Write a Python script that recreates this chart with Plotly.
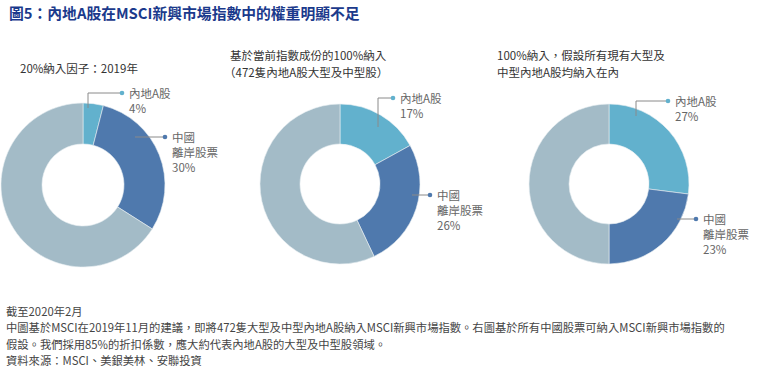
import plotly.graph_objects as go

W, H = 760, 377
FONT = "Noto Sans CJK TC"

slice_names = ["內地A股", "中國離岸股票", "其他"]
slice_colors = ["#62b1cd", "#4f79ad", "#a3bbc7"]
pie_values = [
    [4, 30, 66],
    [17, 26, 57],
    [27, 23, 50],
]
pie_titles = [
    ["20%納入因子：2019年"],
    ["基於當前指數成份的100%納入", "（472隻內地A股大型及中型股）"],
    ["100%納入，假設所有現有大型及", "中型內地A股均納入在內"],
]
a_labels = ["4%", "17%", "27%"]
cn_labels = ["30%", "26%", "23%"]
footnotes = [
    "截至2020年2月",
    "中圖基於MSCI在2019年11月的建議，即將472隻大型及中型內地A股納入MSCI新興市場指數。右圖基於所有中國股票可納入MSCI新興市場指數的",
    "假設。我們採用85%的折扣係數，應大約代表內地A股的大型及中型股領域。",
    "資料來源：MSCI、美銀美林、安聯投資",
]
chart_title = "圖5：內地A股在MSCI新興市場指數中的權重明顯不足"

# layout in pixels
centers = [(83, 185, 82), (340, 184, 80), (609, 184, 80)]
title_pos = [[(18, 68)], [(228, 55), (222, 72)], [(495, 55), (495, 72)]]
# leader lines: (vertical x, y_bottom, y_top, dot x) for A; (x0, x1, y) for CN
a_leader = [(88, 108, 93, 122), (378, 127, 98, 393), (636, 116, 101, 668)]
cn_leader = [(135, 165, 137), (412, 430, 195), (677, 696, 219)]


def px(x):
    return x / W


def py(y):
    return 1 - y / H


fig = go.Figure()
for i, vals in enumerate(pie_values):
    cx, cy, r = centers[i]
    fig.add_trace(go.Pie(
        values=vals,
        labels=slice_names,
        sort=False,
        direction="clockwise",
        rotation=0,
        hole=0.5,
        textinfo="none",
        hoverinfo="label+percent",
        marker=dict(colors=slice_colors, line=dict(color="#e8eef2", width=0.6)),
        domain=dict(x=[px(cx - r), px(cx + r)], y=[py(cy + r), py(cy - r)]),
        showlegend=False,
    ))

shapes = []
annotations = []

annotations.append(dict(
    text="<b>" + chart_title + "</b>", x=px(7), y=py(12), xref="paper", yref="paper",
    xanchor="left", yanchor="middle", showarrow=False,
    font=dict(family=FONT, size=14.8, color="#1b3a8c"),
))

LAB = dict(family=FONT, size=11.5, color="#666666")

for i in range(3):
    for (tx, ty), line in zip(title_pos[i], pie_titles[i]):
        annotations.append(dict(
            text=line, x=px(tx), y=py(ty), xref="paper", yref="paper",
            xanchor="left", yanchor="middle", showarrow=False,
            font=dict(family=FONT, size=11.5, color="#333333"),
        ))
    vx, yb, yt, dx = a_leader[i]
    shapes.append(dict(type="path", xref="paper", yref="paper",
                       path=f"M {px(vx)} {py(yb)} L {px(vx)} {py(yt)} L {px(dx)} {py(yt)}",
                       line=dict(color="#8a8a8a", width=1)))
    shapes.append(dict(type="circle", xref="paper", yref="paper",
                       x0=px(dx - 2.3), x1=px(dx + 2.3), y0=py(yt + 2.3), y1=py(yt - 2.3),
                       fillcolor=slice_colors[0], line=dict(width=0)))
    annotations.append(dict(
        text=slice_names[0] + "<br>" + a_labels[i], x=px(dx + 5), y=py(yt - 10),
        xref="paper", yref="paper", xanchor="left", yanchor="top", align="left",
        showarrow=False, font=LAB,
    ))
    x0, x1, y = cn_leader[i]
    shapes.append(dict(type="line", xref="paper", yref="paper",
                       x0=px(x0), x1=px(x1), y0=py(y), y1=py(y),
                       line=dict(color="#8a8a8a", width=1)))
    shapes.append(dict(type="circle", xref="paper", yref="paper",
                       x0=px(x1 - 2.3), x1=px(x1 + 2.3), y0=py(y + 2.3), y1=py(y - 2.3),
                       fillcolor=slice_colors[1], line=dict(width=0)))
    annotations.append(dict(
        text="中國<br>離岸股票<br>" + cn_labels[i], x=px(x1 + 5), y=py(y - 10),
        xref="paper", yref="paper", xanchor="left", yanchor="top", align="left",
        showarrow=False, font=LAB,
    ))

for k, line in enumerate(footnotes):
    annotations.append(dict(
        text=line, x=px(4), y=py(311 + 16.3 * k), xref="paper", yref="paper",
        xanchor="left", yanchor="middle", showarrow=False,
        font=dict(family=FONT, size=11.3, color="#444444"),
    ))

fig.update_layout(
    width=W, height=H,
    margin=dict(l=0, r=0, t=0, b=0),
    paper_bgcolor="white", plot_bgcolor="white",
    shapes=shapes, annotations=annotations,
    font=dict(family=FONT),
)

fig.write_html("out.html", config={"displayModeBar": False},
               post_script="document.body.style.margin='0';")
